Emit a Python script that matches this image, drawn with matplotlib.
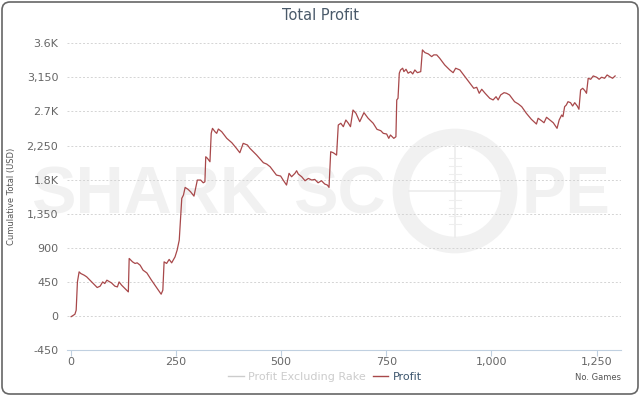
import matplotlib.pyplot as plt
from matplotlib.patches import Circle, FancyBboxPatch
from matplotlib.lines import Line2D

# cumulative profit (game number, USD)
games = [1, 10, 13, 16, 20, 24, 32, 38, 50, 63, 70, 76, 81, 86, 97, 105, 111, 115, 121, 129,
         137, 139, 147, 153, 158, 165, 172, 181, 192, 204, 215, 219, 222, 228, 234, 240, 248, 253, 258,
         264, 268, 272, 279, 285, 293, 301, 309, 315, 319, 321, 325, 331, 334, 337, 343, 347, 351,
         359, 371, 383, 394, 402, 410, 420, 426, 442, 458, 466, 474, 489, 499, 505, 513, 519, 525,
         533, 537, 541, 549, 557, 565, 573, 580, 588, 596, 604, 610, 614, 618, 624, 632, 636, 642,
         648, 654, 660, 665, 671, 678, 687, 697, 707, 719, 728, 737, 743, 751, 756, 760, 768, 773,
         775, 778, 781, 784, 789, 792, 797, 802, 808, 813, 818, 824, 832, 836, 842, 850, 858, 863,
         870, 877, 889, 901, 909, 915, 925, 937, 949, 958, 965, 971, 977, 985, 996, 1004, 1011,
         1016, 1022, 1030, 1036, 1043, 1055, 1064, 1072, 1083, 1095, 1107, 1111, 1119, 1125, 1131,
         1139, 1147, 1156, 1161, 1167, 1170, 1174, 1178, 1182, 1188, 1193, 1198, 1204, 1208, 1212,
         1217, 1222, 1226, 1230, 1236, 1242, 1250, 1256, 1262, 1269, 1275, 1281, 1288, 1294]
profit = [-10, 22, 75, 449, 582, 560, 538, 516, 449, 375, 393, 449, 428, 472, 436, 393, 383, 449, 406, 362,
          317, 759, 714, 693, 701, 670, 604, 568, 472, 375, 287, 340, 714, 693, 746, 701, 780, 869, 1001,
          1552, 1596, 1697, 1671, 1639, 1582, 1794, 1794, 1758, 1771, 2102, 2081, 2036, 2411, 2477, 2432, 2411, 2468,
          2432, 2345, 2287, 2213, 2155, 2279, 2257, 2213, 2124, 2023, 2005, 1970, 1860, 1847, 1794, 1728, 1883, 1838,
          1883, 1917, 1873, 1838, 1785, 1816, 1794, 1803, 1758, 1785, 1741, 1728, 1697, 2168, 2155, 2124, 2521, 2544,
          2499, 2587, 2544, 2499, 2719, 2676, 2565, 2684, 2610, 2544, 2464, 2446, 2411, 2402, 2345, 2389, 2345, 2366,
          2852, 2874, 3205, 3248, 3271, 3226, 3257, 3205, 3226, 3195, 3248, 3212, 3226, 3513, 3477, 3460, 3424, 3447,
          3447, 3403, 3314, 3248, 3212, 3271, 3248, 3160, 3072, 3006, 3019, 2940, 2993, 2940, 2874, 2852, 2895,
          2852, 2918, 2948, 2940, 2918, 2829, 2799, 2763, 2676, 2596, 2534, 2610, 2578, 2551, 2623,
          2587, 2551, 2477, 2587, 2653, 2631, 2763, 2785, 2829, 2816, 2772, 2816, 2772, 2729, 2984,
          3006, 2975, 2940, 3138, 3125, 3169, 3152, 3125, 3152, 3138, 3182, 3160, 3138, 3169]

yticks = [-450, 0, 450, 900, 1350, 1800, 2250, 2700, 3150, 3600]
ytick_labels = ["-450", "0", "450", "900", "1,350", "1.8K", "2,250", "2.7K", "3,150", "3.6K"]
xticks = [0, 250, 500, 750, 1000, 1250]
xtick_labels = ["0", "250", "500", "750", "1,000", "1,250"]

W, H = 640, 397
fig = plt.figure(figsize=(W / 100, H / 100), dpi=100)
fig.patch.set_facecolor("white")

# background layer in pixel units: frame + watermark
bg = fig.add_axes([0, 0, 1, 1], zorder=0)
bg.set_xlim(0, W)
bg.set_ylim(H, 0)
bg.axis("off")
bg.add_patch(FancyBboxPatch((2, 2), W - 4, H - 5, boxstyle="round,pad=0,rounding_size=8",
                            facecolor="white", edgecolor="#666666", lw=1.2))
wm = "#f1f1f1"
for txt, x0 in [("SHARK", 31), ("SC", 293), ("PE", 522)]:
    bg.text(x0, 213, txt, family="Liberation Sans", weight="bold", fontsize=48,
            color=wm, ha="left", va="baseline")
bg.add_patch(Circle((455, 191), 54, fill=False, edgecolor=wm, lw=12))
bg.plot([455, 455], [145, 237], color="#ebebeb", lw=1.1)
bg.plot([409, 501], [191, 191], color="#ebebeb", lw=1.1)
for yy in [158, 166, 174, 182, 200, 208, 216, 224]:
    bg.plot([449, 461], [yy, yy], color="#eeeeee", lw=0.8)

# main plot
ax = fig.add_axes([66.7 / W, 1 - 350 / H, (621 - 66.7) / W, (350 - 43.3) / H], zorder=1)
ax.patch.set_alpha(0)
ax.plot(games, profit, color="#a8484a", lw=0.9)

ax.set_xlim(-9.5, 1308)
ax.set_ylim(-450, 3600)
ax.set_yticks(yticks)
ax.set_yticklabels(ytick_labels)
ax.set_xticks(xticks)
ax.set_xticklabels(xtick_labels)
ax.grid(axis="y", color="#d4d4d4", linestyle=(0, (2, 2)), lw=0.7)
for s in ["top", "right", "left"]:
    ax.spines[s].set_visible(False)
ax.spines["bottom"].set_color("#c0d0e0")
ax.tick_params(axis="y", length=0, pad=6, labelsize=8, labelcolor="#666666")
ax.tick_params(axis="x", length=4, color="#c0d0e0", pad=1, labelsize=8, labelcolor="#666666")

ax.set_ylabel("Cumulative Total (USD)", fontsize=6, color="#555555", labelpad=8)
fig.text(621 / W, 1 - 377 / H, "No. Games", fontsize=6, color="#555555", ha="right", va="center")
fig.text(0.5, 1 - 16 / H, "Total Profit", fontsize=10.5, color="#4a5a6a", ha="center", va="center")

handles = [Line2D([], [], color="#cccccc", lw=1), Line2D([], [], color="#a8484a", lw=1)]
leg = fig.legend(handles, ["Profit Excluding Rake", "Profit"], loc="center",
                 bbox_to_anchor=(325 / W, 1 - 377 / H), ncol=2, frameon=False, fontsize=8,
                 handlelength=1.4, handletextpad=0.4, columnspacing=0.6)
leg.get_texts()[0].set_color("#cccccc")
leg.get_texts()[1].set_color("#3e576f")

fig.savefig("out.png", dpi=100)
